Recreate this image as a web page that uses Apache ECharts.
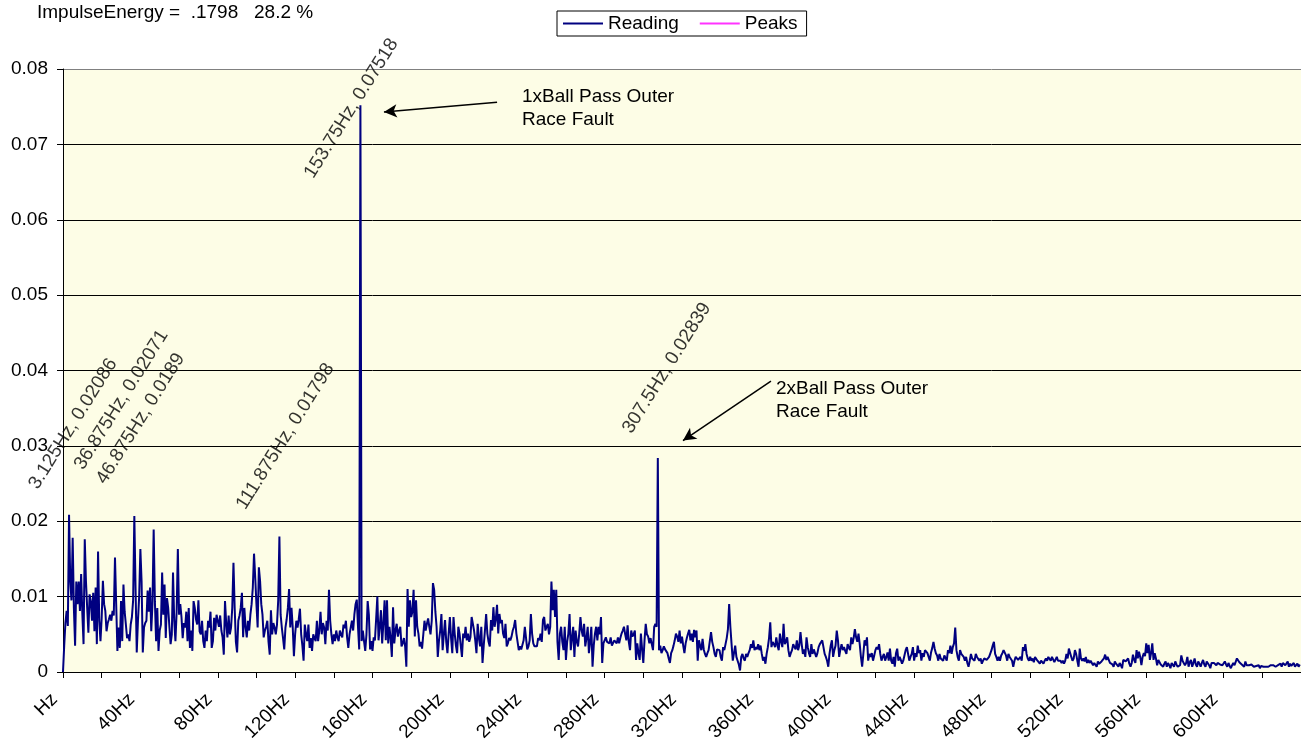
<!DOCTYPE html>
<html>
<head>
<meta charset="utf-8">
<title>ImpulseEnergy spectrum</title>
<script src="https://cdn.jsdelivr.net/npm/echarts@6/dist/echarts.min.js"></script>
<style>
  html, body { margin: 0; padding: 0; background: #fff; }
  #chart { width: 1301px; height: 744px; }
</style>
</head>
<body>
<div id="chart"></div>
<script>
// spectrum bins are 0.625 Hz apart, 1024 of them
const FREQ_STEP = 0.625;

const reading0to80 = [
  0, 0.0035, 0.0065, 0.0081, 0.0061, 0.02086, 0.0121, 0.0095, 0.0178, 0.0085, 0.0035, 0.012, 0.009, 0.012, 0.0081, 0.013,
  0.0077, 0.0037, 0.0176, 0.012, 0.0085, 0.0052, 0.0103, 0.0094, 0.0068, 0.0105, 0.0054, 0.0112, 0.0037, 0.016, 0.0068, 0.0041,
  0.0072, 0.0121, 0.009, 0.0081, 0.0054, 0.0065, 0.007, 0.0076, 0.0068, 0.0081, 0.0075, 0.0152, 0.009, 0.0028, 0.0059, 0.0032,
  0.0094, 0.0041, 0.0116, 0.008, 0.0063, 0.0045, 0.005, 0.0041, 0.0063, 0.0073, 0.0095, 0.02071, 0.0112, 0.0026, 0.0068, 0.01,
  0.0163, 0.012, 0.0026, 0.0059, 0.0065, 0.0068, 0.0108, 0.008, 0.0112, 0.0054, 0.009, 0.0189, 0.0094, 0.0041, 0.0085, 0.0028,
  0.0055, 0.0063, 0.0132, 0.0076, 0.0116, 0.0045, 0.0098, 0.0085, 0.006, 0.0037, 0.005, 0.0132, 0.0068, 0.0041, 0.008, 0.0163,
  0.0076, 0.009, 0.0073, 0.0045, 0.0065, 0.0059, 0.008, 0.0041, 0.0085, 0.0032, 0.0055, 0.0028, 0.0094, 0.0085, 0.007, 0.0063,
  0.0095, 0.0054, 0.005, 0.0068, 0.0041, 0.0032, 0.0055, 0.0041, 0.0068, 0.0059, 0.008, 0.0032, 0.0041, 0.0072, 0.0055, 0.0076
];
const reading80to160 = [
  0.0075, 0.006, 0.0075, 0.0055, 0.0046, 0.0023, 0.0094, 0.0065, 0.0046, 0.0075, 0.005, 0.0059, 0.0085, 0.0145, 0.0085, 0.004,
  0.0026, 0.0068, 0.0075, 0.0085, 0.0105, 0.0046, 0.0085, 0.006, 0.0046, 0.0068, 0.0055, 0.0076, 0.009, 0.0112, 0.0157, 0.0125,
  0.009, 0.0059, 0.0139, 0.0121, 0.009, 0.0076, 0.0046, 0.0055, 0.006, 0.0068, 0.004, 0.0023, 0.0082, 0.005, 0.0065, 0.0059,
  0.005, 0.0063, 0.0095, 0.01798, 0.0076, 0.0059, 0.0045, 0.003, 0.0059, 0.007, 0.0085, 0.011, 0.0059, 0.0085, 0.006, 0.0021,
  0.005, 0.0068, 0.0059, 0.007, 0.0084, 0.005, 0.0035, 0.0015, 0.0063, 0.005, 0.0041, 0.0063, 0.0032, 0.0045, 0.0028, 0.005,
  0.0045, 0.0041, 0.0068, 0.0041, 0.0055, 0.008, 0.005, 0.0065, 0.0059, 0.0037, 0.0068, 0.0055, 0.0109, 0.0068, 0.005, 0.0037,
  0.005, 0.0041, 0.0055, 0.0046, 0.0041, 0.0055, 0.005, 0.0046, 0.0063, 0.0058, 0.0068, 0.0046, 0.0032, 0.005, 0.0059, 0.0068,
  0.0055, 0.0076, 0.009, 0.0096, 0.006, 0.003, 0.07518, 0.0041, 0.0055, 0.0041, 0.0028, 0.005, 0.0094, 0.0076, 0.003, 0.0041
];
const reading160to240 = [
  0.0028, 0.0046, 0.0042, 0.007, 0.01, 0.0042, 0.006, 0.0082, 0.0038, 0.0065, 0.0095, 0.0042, 0.0095, 0.0038, 0.006, 0.0045,
  0.002, 0.0086, 0.0038, 0.0055, 0.0064, 0.0047, 0.0055, 0.006, 0.0034, 0.0038, 0.0045, 0.0034, 0.0007, 0.011, 0.006, 0.0095,
  0.0073, 0.008, 0.0109, 0.0047, 0.0095, 0.006, 0.0051, 0.0034, 0.004, 0.0031, 0.0029, 0.0068, 0.0055, 0.0064, 0.0071, 0.006,
  0.005, 0.0068, 0.0118, 0.0109, 0.008, 0.006, 0.002, 0.0042, 0.0055, 0.0077, 0.0029, 0.005, 0.0069, 0.004, 0.0025, 0.0051,
  0.0073, 0.0045, 0.0025, 0.0073, 0.0051, 0.0035, 0.0025, 0.006, 0.0051, 0.0035, 0.002, 0.0051, 0.0045, 0.006, 0.0042, 0.0051,
  0.004, 0.0046, 0.0073, 0.0075, 0.0055, 0.0042, 0.0025, 0.0064, 0.0045, 0.0034, 0.006, 0.0012, 0.0035, 0.0055, 0.0077, 0.0051,
  0.004, 0.0034, 0.0069, 0.0055, 0.0086, 0.006, 0.007, 0.0089, 0.0051, 0.0077, 0.0065, 0.0069, 0.0051, 0.0045, 0.0064, 0.0034,
  0.0038, 0.0045, 0.0042, 0.0047, 0.0055, 0.006, 0.0069, 0.0051, 0.004, 0.0029, 0.0034, 0.003, 0.0029, 0.0042, 0.006, 0.0045
];
const reading240to320 = [
  0.003, 0.0034, 0.0042, 0.0077, 0.0051, 0.0038, 0.0034, 0.0036, 0.0034, 0.0045, 0.0042, 0.0051, 0.004, 0.0069, 0.0073, 0.0055,
  0.006, 0.0064, 0.005, 0.006, 0.012, 0.0082, 0.0109, 0.0073, 0.0109, 0.004, 0.0016, 0.0051, 0.006, 0.004, 0.0029, 0.006,
  0.0016, 0.004, 0.0051, 0.0077, 0.0029, 0.0045, 0.006, 0.002, 0.0055, 0.004, 0.0034, 0.0051, 0.0073, 0.0055, 0.0047, 0.0064,
  0.0034, 0.0045, 0.006, 0.0025, 0.004, 0.006, 0.0007, 0.0035, 0.0051, 0.006, 0.0042, 0.006, 0.005, 0.0073, 0.0012, 0.0038,
  0.0038, 0.0046, 0.004, 0.0042, 0.0038, 0.0046, 0.0035, 0.0034, 0.0042, 0.004, 0.0038, 0.0046, 0.0038, 0.0045, 0.0051, 0.0055,
  0.006, 0.005, 0.0042, 0.0062, 0.004, 0.0029, 0.0055, 0.0047, 0.005, 0.0055, 0.0016, 0.0038, 0.0025, 0.0016, 0.0051, 0.003,
  0.0012, 0.0042, 0.0064, 0.005, 0.0047, 0.0038, 0.0045, 0.0047, 0.0029, 0.006, 0.0064, 0.006, 0.02839, 0.0029, 0.0035, 0.0025,
  0.0029, 0.0034, 0.003, 0.0029, 0.0025, 0.0018, 0.0012, 0.0025, 0.0029, 0.0035, 0.0042, 0.0051, 0.0047, 0.004, 0.0055, 0.0038
];
const reading320to400 = [
  0.0047, 0.0035, 0.0025, 0.0038, 0.0045, 0.0051, 0.0056, 0.0042, 0.0051, 0.004, 0.0056, 0.0046, 0.0055, 0.0015, 0.0042, 0.0035,
  0.0029, 0.0044, 0.003, 0.0024, 0.002, 0.0025, 0.0029, 0.0029, 0.0053, 0.004, 0.0033, 0.0024, 0.002, 0.003, 0.0031, 0.0029,
  0.002, 0.0015, 0.0033, 0.0029, 0.0037, 0.0045, 0.0057, 0.009, 0.006, 0.0037, 0.0015, 0.0025, 0.0035, 0.002, 0.0015, 0.001,
  0.0002, 0.002, 0.0024, 0.0018, 0.0015, 0.0024, 0.002, 0.0025, 0.0029, 0.0037, 0.0032, 0.0042, 0.0029, 0.0033, 0.003, 0.0037,
  0.0029, 0.0035, 0.0024, 0.0015, 0.002, 0.0011, 0.0024, 0.0033, 0.0045, 0.0066, 0.0033, 0.004, 0.0037, 0.0033, 0.0046, 0.0035,
  0.0029, 0.0051, 0.004, 0.0033, 0.0064, 0.0037, 0.004, 0.0046, 0.0029, 0.002, 0.0025, 0.0029, 0.0037, 0.0033, 0.003, 0.0042,
  0.0029, 0.0035, 0.0053, 0.0037, 0.0024, 0.003, 0.002, 0.0046, 0.0033, 0.0025, 0.002, 0.0037, 0.0024, 0.003, 0.0029, 0.002,
  0.0025, 0.0033, 0.0037, 0.0035, 0.0042, 0.0033, 0.0024, 0.002, 0.0015, 0.0007, 0.0024, 0.0035, 0.0042, 0.002, 0.0029, 0.0035
];
const reading400to480 = [
  0.0055, 0.0042, 0.002, 0.003, 0.0037, 0.0029, 0.0033, 0.0028, 0.0024, 0.0037, 0.0032, 0.0029, 0.0046, 0.0037, 0.0045, 0.0057,
  0.0046, 0.004, 0.0051, 0.0037, 0.002, 0.0007, 0.0024, 0.0042, 0.0035, 0.0046, 0.0015, 0.0024, 0.002, 0.0025, 0.0015, 0.0022,
  0.0029, 0.0033, 0.003, 0.0037, 0.0024, 0.0015, 0.002, 0.0024, 0.0015, 0.002, 0.0026, 0.0015, 0.0031, 0.0015, 0.0011, 0.002,
  0.0007, 0.0025, 0.0031, 0.0015, 0.002, 0.0016, 0.0011, 0.0015, 0.0022, 0.0029, 0.0033, 0.0024, 0.0015, 0.002, 0.0024, 0.0033,
  0.0015, 0.0025, 0.002, 0.0035, 0.0025, 0.0029, 0.0015, 0.0025, 0.002, 0.0029, 0.0031, 0.0025, 0.002, 0.0015, 0.0026, 0.0032,
  0.004, 0.0031, 0.0025, 0.0022, 0.0015, 0.0024, 0.0018, 0.002, 0.0015, 0.0022, 0.002, 0.0015, 0.0029, 0.0025, 0.0035, 0.0024,
  0.0033, 0.0038, 0.0059, 0.0029, 0.002, 0.0015, 0.0029, 0.0024, 0.0022, 0.002, 0.0015, 0.002, 0.0012, 0.0007, 0.0015, 0.0024,
  0.0018, 0.002, 0.0015, 0.0024, 0.002, 0.0022, 0.0015, 0.0018, 0.0011, 0.0015, 0.0018, 0.002, 0.0016, 0.0015, 0.002, 0.0022
];
const reading480to560 = [
  0.0029, 0.0035, 0.004, 0.0024, 0.002, 0.0015, 0.002, 0.0015, 0.0022, 0.0025, 0.0029, 0.0031, 0.0022, 0.0015, 0.0024, 0.002,
  0.0018, 0.0015, 0.0007, 0.0015, 0.002, 0.0018, 0.0016, 0.0015, 0.002, 0.0015, 0.0033, 0.0028, 0.0037, 0.0024, 0.0018, 0.0015,
  0.002, 0.0015, 0.0018, 0.0013, 0.002, 0.0018, 0.0015, 0.0016, 0.0011, 0.0015, 0.0013, 0.0011, 0.0015, 0.0018, 0.0015, 0.002,
  0.0018, 0.0015, 0.002, 0.0018, 0.0013, 0.0011, 0.002, 0.0015, 0.0016, 0.0015, 0.0012, 0.0015, 0.0011, 0.0015, 0.0024, 0.0018,
  0.0031, 0.0029, 0.002, 0.0015, 0.0018, 0.0029, 0.0024, 0.0015, 0.0007, 0.0031, 0.0018, 0.0015, 0.0018, 0.0014, 0.002, 0.0012,
  0.0016, 0.0012, 0.0015, 0.0014, 0.0009, 0.0012, 0.001, 0.0007, 0.0014, 0.0011, 0.0009, 0.0014, 0.0016, 0.0018, 0.0023, 0.0016,
  0.002, 0.0016, 0.0012, 0.0014, 0.001, 0.0007, 0.0014, 0.0011, 0.0012, 0.0007, 0.0012, 0.0009, 0.0005, 0.0016, 0.0018, 0.0014,
  0.0012, 0.0018, 0.0011, 0.0007, 0.0012, 0.0023, 0.0016, 0.0012, 0.0029, 0.0018, 0.0027, 0.002, 0.0009, 0.002, 0.0025, 0.0021
];
const reading560to640 = [
  0.0038, 0.0025, 0.0036, 0.0016, 0.0025, 0.0038, 0.0016, 0.0025, 0.0018, 0.0009, 0.0016, 0.0014, 0.001, 0.0012, 0.0007, 0.0011,
  0.0014, 0.0007, 0.0012, 0.0009, 0.0005, 0.0012, 0.001, 0.0007, 0.0014, 0.001, 0.0007, 0.0008, 0.0009, 0.0022, 0.0015, 0.0016,
  0.0009, 0.0012, 0.002, 0.0007, 0.0013, 0.0016, 0.0007, 0.0012, 0.0018, 0.001, 0.0007, 0.0014, 0.0011, 0.0007, 0.0012, 0.0016,
  0.001, 0.0007, 0.0014, 0.0012, 0.0009, 0.0005, 0.0012, 0.001, 0.0012, 0.0014, 0.0009, 0.0012, 0.0014, 0.001, 0.0012, 0.0009,
  0.0007, 0.0014, 0.001, 0.0007, 0.0012, 0.0008, 0.0005, 0.0009, 0.0012, 0.0009, 0.0007, 0.0018, 0.0016, 0.0013, 0.0012, 0.001,
  0.0012, 0.0007, 0.0014, 0.0009, 0.0007, 0.0009, 0.0007, 0.001, 0.0012, 0.0007, 0.0005, 0.0008, 0.0007, 0.0009, 0.0005, 0.0008,
  0.0009, 0.0007, 0.0006, 0.0007, 0.0005, 0.0007, 0.0008, 0.0009, 0.0007, 0.0009, 0.0008, 0.0007, 0.0005, 0.0009, 0.0008, 0.0011,
  0.0007, 0.0012, 0.0014, 0.0009, 0.0011, 0.0014, 0.0007, 0.0011, 0.0008, 0.0009, 0.0012, 0.0007, 0.0009, 0.0011, 0.0007, 0.001
];

// labelled peaks
const peakFreqs = [3.125, 36.875, 46.875, 111.875, 153.75, 307.5];
const peakValues = [0.02086, 0.02071, 0.0189, 0.01798, 0.07518, 0.02839];

// callouts (text anchor, arrow tail, arrow head), in Hz / amplitude
const noteTexts = ['1xBall Pass Outer\nRace Fault', '2xBall Pass Outer\nRace Fault'];
const noteAt = [[237.3, 0.0748], [368.6, 0.036]];
const arrowFrom = [[224.4, 0.0756], [366, 0.0386]];
const arrowTo = [[165.9, 0.0743], [320.5, 0.0307]];

const yTicks = [0, 0.01, 0.02, 0.03, 0.04, 0.05, 0.06, 0.07, 0.08];

const FONT = "'Liberation Sans', Arial, sans-serif";

const amplitudes = [].concat(
  reading0to80, reading80to160, reading160to240, reading240to320,
  reading320to400, reading400to480, reading480to560, reading560to640
);
const readingData = amplitudes.map((v, i) => [i * FREQ_STEP, v]);

// where each peak label sits relative to its point (px)
const peakLabelShift = [[4, -91], [-13, -116], [-13, -111], [6, -100], [-9, 3], [9, -90]];

const chart = echarts.init(document.getElementById('chart'));

const option = {
  animation: false,
  textStyle: { fontFamily: FONT },
  title: {
    text: 'ImpulseEnergy =  .1798   28.2 %',
    left: 37,
    top: 3,
    padding: 0,
    textStyle: { fontFamily: FONT, fontSize: 19, fontWeight: 'normal', color: '#000' },
  },
  legend: {
    left: 557,
    top: 11,
    padding: [3, 9, 3, 6],
    itemGap: 21,
    itemWidth: 40,
    itemHeight: 2,
    icon: 'rect',
    borderColor: '#000',
    borderWidth: 1,
    backgroundColor: '#fff',
    textStyle: { fontFamily: FONT, fontSize: 19, color: '#000' },
    data: ['Reading', 'Peaks'],
  },
  grid: {
    left: 63,
    right: 0,
    top: 69,
    bottom: 72,
    outerBoundsMode: 'none',
    show: true,
    backgroundColor: '#fdfde6',
    borderWidth: 0,
  },
  xAxis: {
    type: 'value',
    min: 0,
    max: 640,
    interval: 20,
    axisLine: { show: true, lineStyle: { color: '#000', width: 1 } },
    axisTick: { show: true, length: 6, lineStyle: { color: '#000' } },
    splitLine: { show: false },
    axisLabel: {
      rotate: 45,
      margin: 16,
      padding: [0, 12, 0, 0],
      fontFamily: FONT,
      fontSize: 19,
      color: '#000',
      formatter: (v) => (v % 40 === 0 && v < 640 ? (v === 0 ? 'Hz' : v + 'Hz') : ''),
    },
  },
  yAxis: {
    type: 'value',
    min: yTicks[0],
    max: yTicks[yTicks.length - 1],
    interval: 0.01,
    axisLine: { show: true, lineStyle: { color: '#000', width: 1 } },
    axisTick: { show: true, length: 6, lineStyle: { color: '#000' } },
    axisLabel: { margin: 15, fontFamily: FONT, fontSize: 19, color: '#000' },
    splitLine: {
      show: true,
      lineStyle: {
        color: ['#000', '#000', '#000', '#000', '#000', '#000', '#000', '#000', '#808080'],
        width: 1,
      },
    },
  },
  series: [
    {
      name: 'Reading',
      type: 'line',
      data: readingData,
      symbol: 'none',
      showSymbol: false,
      color: '#000080',
      lineStyle: { color: '#000080', width: 2 },
      z: 3,
      markLine: {
        silent: true,
        symbol: ['none', 'arrow'],
        symbolSize: [10, 13],
        lineStyle: { color: '#000', width: 1.5, type: 'solid' },
        label: { show: false },
        data: arrowFrom.map((p, i) => [{ coord: p }, { coord: arrowTo[i] }]),
      },
      markPoint: {
        silent: true,
        symbol: 'circle',
        symbolSize: 0,
        label: {
          show: true,
          position: 'right',
          distance: 0,
          formatter: '{b}',
          fontFamily: FONT,
          fontSize: 19,
          lineHeight: 23,
          color: '#000',
        },
        data: noteTexts.map((t, i) => ({ name: t, coord: noteAt[i] })),
      },
    },
    {
      name: 'Peaks',
      type: 'scatter',
      color: '#ff00ff',
      symbolSize: 0,
      z: 4,
      label: {
        show: true,
        rotate: 58,
        align: 'center',
        verticalAlign: 'middle',
        fontFamily: FONT,
        fontSize: 19,
        color: '#000',
        formatter: (p) => peakFreqs[p.dataIndex] + 'Hz, ' + peakValues[p.dataIndex],
      },
      data: peakFreqs.map((f, i) => ({
        value: [f, peakValues[i]],
        label: { position: peakLabelShift[i] },
      })),
    },
  ],
};

chart.setOption(option);
</script>
</body>
</html>
